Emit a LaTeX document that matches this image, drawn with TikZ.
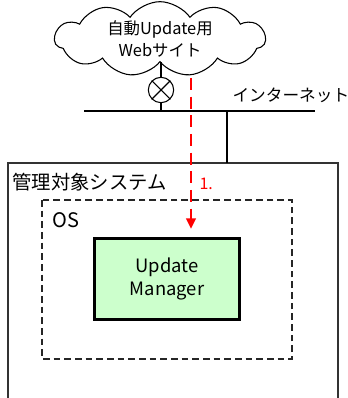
\documentclass[tikz,border=0pt]{standalone}
\usepackage{fontspec}
\setmainfont{Noto Sans CJK JP}
\usetikzlibrary{shapes.symbols,arrows.meta}
\definecolor{mgrgreen}{RGB}{204,255,204}
\definecolor{flowred}{RGB}{255,0,0}
\tikzset{
  websrv/.style={cloud,cloud puffs=11,cloud puff arc=110,aspect=3.3,draw,thick,
    minimum width=158pt,minimum height=46pt,align=center,inner sep=0pt,
    font=\fontsize{12.3pt}{16.5pt}\selectfont},
  gateway/.style={circle,draw,thick,minimum size=19pt,inner sep=0pt},
  mgrbox/.style={draw,line width=2.4pt,fill=mgrgreen,minimum width=109pt,minimum height=61pt,
    align=center,font=\fontsize{13.8pt}{17.5pt}\selectfont},
  tag/.style={anchor=west,inner sep=0pt,font=\fontsize{14.5pt}{16pt}\selectfont},
  flow/.style={flowred,dashed,dash pattern=on 9pt off 5pt,line width=2pt,-{Triangle[length=8pt,width=7pt]}},
}
\begin{document}
\begin{tikzpicture}[x=0.75pt,y=-0.75pt,thick]
  \useasboundingbox (0,0) rectangle (348,398);

  % internet side
  \node[websrv] (web) at (160,39) {自動Update用\\Webサイト};
  \node[gateway] (gw) at (161,90) {};
  \draw (gw.north east) -- (gw.south west) (gw.north west) -- (gw.south east);
  \coordinate (barl) at (84,111);
  \coordinate (barr) at (315,111);
  \draw[line width=1.6pt] (barl) -- (barr);
  \draw (gw |- web.south) -- (gw.north);
  \draw (gw.south) -- (gw |- barl);
  \node[tag,font=\fontsize{12.5pt}{16pt}\selectfont] (inet) at (232,95) {インターネット};

  % managed system
  \coordinate (sysnw) at (8,163);
  \coordinate (sysne) at (338,163);
  \draw[gray!40!black] (8,398) -- (sysnw) -- (sysne) -- (338,398);
  \draw[line width=1.6pt] (227,111) -- (227,163);
  \node[tag] (sys) at (12,182) {管理対象システム};

  % OS
  \draw[dashed,gray!30!black,dash pattern=on 5pt off 3pt] (42,200) rectangle (292,359);
  \node[tag,font=\fontsize{15pt}{16pt}\selectfont] (os) at (52,220) {OS};
  \node[mgrbox] (mgr) at (167,279) {Update\\Manager};

  % update flow
  \coordinate (start) at (191,78);
  \coordinate (stop) at (191,229);
  \draw[flow] (start) -- (stop);
  \node[tag,text=flowred,font=\fontsize{12pt}{14pt}\selectfont] (step1) at (199,184) {1.};
\end{tikzpicture}
\end{document}
